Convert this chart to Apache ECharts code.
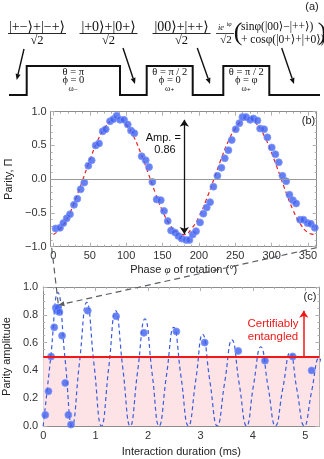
<!DOCTYPE html>
<html lang="en">
<head>
<meta charset="UTF-8">
<title>Parity oscillations</title>
<script src="https://cdn.jsdelivr.net/npm/echarts@6.0.0/dist/echarts.min.js"></script>
<style>
    html, body { margin: 0; padding: 0; background: #fff; }
    #main { width: 324px; height: 459px; }
</style>
</head>
<body>
<div id="main"></div>
<script>
// (b) parity vs phase of the analysis rotation
var bPhase = [3.1, 9.1, 13.7, 18.3, 22.8, 28.3, 32.9, 37.5, 42.5, 48, 52.6, 58.1, 62.7, 67.8, 71.9,
    77.9, 82.4, 87, 91.6, 97.1, 102.2, 106.7, 111.3, 121.4, 126.9, 131.5, 136.1, 142, 147.6, 152.1,
    157.2, 161.8, 167.3, 171.8, 176.4, 182.4, 187, 191.6, 196.1, 201.6, 206.2, 210.8, 215.4, 220, 225.5,
    231, 235.6, 240.6, 245.2, 250.7, 255.7, 259.9, 264.9, 270.4, 275, 280.5, 284.2, 289.7, 294.2, 300.2,
    305.2, 309.9, 314.9, 320, 324.5, 329.2, 333.7, 339.2, 343.8, 349.3, 353.9, 359.4];
var bParity = [-0.73, -0.72, -0.65, -0.58, -0.52, -0.38, -0.29, -0.15, -0.05, 0.20, 0.28, 0.50, 0.53, 0.71, 0.74,
    0.86, 0.89, 0.94, 0.88, 0.88, 0.81, 0.72, 0.68, 0.34, 0.28, 0.18, -0.04, -0.30, -0.31, -0.47,
    -0.62, -0.76, -0.79, -0.84, -0.88, -0.90, -0.90, -0.82, -0.77, -0.64, -0.51, -0.42, -0.34, -0.11, 0.05,
    0.17, 0.31, 0.43, 0.58, 0.74, 0.83, 0.92, 0.92, 0.88, 0.90, 0.87, 0.75, 0.74, 0.62, 0.47,
    0.37, 0.25, 0.05, -0.03, -0.23, -0.31, -0.36, -0.60, -0.60, -0.65, -0.66, -0.72];
// red dashed fit, every 10 degrees
var bFitPhase = [0, 10, 20, 30, 40, 50, 60, 70, 80, 90, 100, 110, 120, 130, 140, 150, 160, 170, 180,
    190, 200, 210, 220, 230, 240, 250, 260, 270, 280, 290, 300, 310, 320, 330, 340, 350, 360];
var bFitParity = [-0.82, -0.73, -0.56, -0.31, -0.02, 0.28, 0.55, 0.75, 0.87, 0.90, 0.81, 0.64, 0.39, 0.10, -0.20, -0.47, -0.67, -0.79, -0.82,
    -0.73, -0.56, -0.31, -0.02, 0.28, 0.55, 0.75, 0.87, 0.90, 0.81, 0.64, 0.39, 0.10, -0.20, -0.47, -0.67, -0.79, -0.82];

// (c) parity amplitude vs interaction duration
var cTime = [0.04, 0.10, 0.15, 0.21, 0.24, 0.26, 0.28, 0.31, 0.36, 0.42, 0.48, 0.53,
    0.85, 1.39, 1.92, 2.54, 3.08, 3.72, 4.23, 4.76, 5.12];
var cAmp = [0.08, 0.25, 0.50, 0.71, 0.85, 0.83, 0.85, 0.82, 0.65, 0.31, 0.08, 0.01,
    0.83, 0.79, 0.67, 0.68, 0.60, 0.54, 0.47, 0.50, 0.40];
// blue dashed fit: zeros, half heights and peaks
var cFitTime = [0, 0.14, 0.28, 0.42, 0.55, 0.69, 0.83, 0.97, 1.11, 1.25, 1.38, 1.52, 1.66, 1.80, 1.94, 2.08,
    2.21, 2.35, 2.49, 2.63, 2.77, 2.91, 3.04, 3.18, 3.32, 3.46, 3.60, 3.74, 3.88, 4.01, 4.15, 4.29,
    4.43, 4.57, 4.71, 4.84, 4.98, 5.12, 5.26, 5.40];
var cFitAmp = [0, 0.48, 0.96, 0.47, 0, 0.45, 0.89, 0.44, 0, 0.42, 0.83, 0.41, 0, 0.39, 0.77, 0.37,
    0, 0.36, 0.71, 0.35, 0, 0.33, 0.66, 0.32, 0, 0.31, 0.62, 0.30, 0, 0.29, 0.57, 0.28,
    0, 0.27, 0.53, 0.26, 0, 0.25, 0.49, 0.25];
var entangledLevel = 0.5;

// tick labels
var bXTicks = [0, 50, 100, 150, 200, 250, 300, 350];
var bYTicks = [-1, -0.5, 0, 0.5, 1];
var cXTicks = [0, 1, 2, 3, 4, 5];
var cYTicks = [0, 0.2, 0.4, 0.6, 0.8, 1];

// (a) pulse sequence text
var stateKets = ['|+−⟩+|−+⟩', '|+0⟩+|0+⟩', '|00⟩+|++⟩'];
var pulseLabels = [['θ = π', 'ϕ = 0', 'ω₋'], ['θ = π / 2', 'ϕ = 0', 'ω₊'], ['θ = π / 2', 'ϕ = φ', 'ω₊']];

function steps(from, to, step) {
    var out = [];
    for (var v = from; v <= to + step / 2; v += step) out.push(Math.round(v * 1000) / 1000);
    return out;
}

var sans = '"Liberation Sans", Arial, sans-serif';
var serif = '"Liberation Serif", "DejaVu Serif", serif';
var frameCol = '#8c8c8c', tickCol = '#b0b0b0';

function fmtY(v) {
    return (v < 0 ? '−' : '') + Math.abs(v).toFixed(1);
}

// one frame side: ticks inside, optional labels and line
function side(grid, min, max, pos, ticks, len, line, label, extra) {
    var ax = {
        type: 'value', gridIndex: grid, min: min, max: max, position: pos,
        splitLine: {show: false},
        axisLine: {show: line, onZero: false, lineStyle: {color: frameCol, width: 1}},
        axisTick: {show: true, inside: true, length: len, customValues: ticks, lineStyle: {color: tickCol, width: 1}},
        axisLabel: label ? label : {show: false}
    };
    for (var k in extra) ax[k] = extra[k];
    return ax;
}

var nameStyle = {fontSize: 11, color: '#222', fontFamily: sans};

var xAxes = [
    // grid 0: panel (b)
    side(0, -3.7, 362, 'bottom', bXTicks, 4, true,
        {customValues: bXTicks, margin: 4, fontSize: 11, color: '#333', fontFamily: sans},
        {name: '{n|Phase }{i|φ}{n| of rotation (°)}', nameLocation: 'middle', nameGap: 18,
            nameTextStyle: {rich: {n: nameStyle, i: {fontSize: 11, color: '#222', fontFamily: serif, fontStyle: 'italic'}}}}),
    side(0, -3.7, 362, 'top', bXTicks, 4, true),
    // grid 1: panel (c)
    side(1, 0, 5.27, 'bottom', cXTicks, 4, true,
        {customValues: cXTicks, margin: 4, fontSize: 11, color: '#333', fontFamily: sans},
        {name: 'Interaction duration (ms)', nameLocation: 'middle', nameGap: 20, nameTextStyle: nameStyle}),
    side(1, 0, 5.27, 'top', cXTicks, 4, true),
    // grids 2,3: minor ticks
    side(2, -3.7, 362, 'bottom', steps(0, 360, 10), 2, false),
    side(2, -3.7, 362, 'top', steps(0, 360, 10), 2, false),
    side(3, 0, 5.27, 'bottom', steps(0, 5.2, 0.2), 2, false),
    side(3, 0, 5.27, 'top', steps(0, 5.2, 0.2), 2, false)
];

var yAxes = [
    side(0, -1, 1, 'left', bYTicks, 4, true,
        {customValues: bYTicks, margin: 4, fontSize: 11, color: '#333', fontFamily: sans, formatter: fmtY},
        {name: 'Parity, Π', nameLocation: 'middle', nameGap: 31, nameTextStyle: nameStyle}),
    side(0, -1, 1, 'right', bYTicks, 4, true),
    side(1, 0, 1, 'left', cYTicks, 4, true,
        {customValues: cYTicks, margin: 5, fontSize: 11, color: '#333', fontFamily: sans, formatter: fmtY},
        {name: 'Parity amplitude', nameLocation: 'middle', nameGap: 24, nameTextStyle: nameStyle}),
    side(1, 0, 1, 'right', cYTicks, 4, true),
    side(2, -1, 1, 'left', steps(-1, 1, 0.1), 2, false),
    side(2, -1, 1, 'right', steps(-1, 1, 0.1), 2, false),
    side(3, 0, 1, 'left', steps(0, 1, 0.05), 2, false),
    side(3, 0, 1, 'right', steps(0, 1, 0.05), 2, false)
];

var gridB = {left: 50.7, top: 111.7, width: 266, height: 135, outerBoundsMode: 'none'};
var gridC = {left: 43.2, top: 287, width: 276.3, height: 139, outerBoundsMode: 'none'};

function pairs(xs, ys) {
    return xs.map(function (x, i) { return [x, ys[i]]; });
}

var dotStyle = {color: '#3f60ef', borderColor: '#7e96ff', borderWidth: 1};

var chart = echarts.init(document.getElementById('main'), null, {renderer: 'canvas'});
chart.setOption({
    animation: false,
    backgroundColor: '#fff',
    grid: [gridB, gridC, gridB, gridC],
    xAxis: xAxes,
    yAxis: yAxes,
    series: [
        {
            type: 'line', xAxisIndex: 0, yAxisIndex: 0, z: 2,
            data: pairs(bFitPhase, bFitParity), smooth: 0.5, showSymbol: false,
            lineStyle: {color: '#e82020', width: 1.2, type: [4, 3]},
            markLine: {
                silent: true, symbol: 'none', label: {show: false},
                lineStyle: {color: '#999', width: 1, type: 'solid'},
                data: [{yAxis: 0}]
            }
        },
        {
            type: 'scatter', xAxisIndex: 0, yAxisIndex: 0, z: 4,
            data: pairs(bPhase, bParity), symbolSize: 7, itemStyle: dotStyle,
            markLine: {
                silent: true, symbol: ['arrow', 'arrow'], symbolSize: 7, label: {show: false},
                lineStyle: {color: '#111', width: 1.3, type: 'solid'},
                data: [[{coord: [180, -0.81]}, {coord: [180, 0.88]}]]
            }
        },
        {
            type: 'line', xAxisIndex: 2, yAxisIndex: 2, z: 1, data: [],
            markArea: {
                silent: true, itemStyle: {color: '#fde3e6'},
                data: [[{yAxis: 0}, {yAxis: entangledLevel}]]
            },
            markLine: {
                silent: true, symbol: 'none', label: {show: false},
                lineStyle: {color: '#f01818', width: 2.2, type: 'solid'},
                data: [{yAxis: entangledLevel}]
            }
        },
        {
            type: 'line', xAxisIndex: 2, yAxisIndex: 2, z: 2,
            data: pairs(cFitTime, cFitAmp), smooth: 0.5, showSymbol: false,
            lineStyle: {color: '#3b5bdb', width: 1.2, type: [4, 3]}
        },
        {
            type: 'scatter', xAxisIndex: 2, yAxisIndex: 2, z: 4,
            data: pairs(cTime, cAmp), symbolSize: 7, itemStyle: dotStyle,
            markLine: {
                silent: true, symbol: ['none', 'arrow'], symbolSize: 7, label: {show: false},
                lineStyle: {color: '#f01818', width: 1.5, type: 'solid'},
                data: [[{coord: [4.97, entangledLevel]}, {coord: [4.97, 0.83]}]]
            }
        }
    ]
});

// ---- annotations drawn as graphics ----
function txt(s, x, y, font, color, align) {
    return {type: 'text', x: x, y: y, silent: true, z: 10,
        style: {text: s, font: font, fill: color || '#111', align: align || 'center', verticalAlign: 'middle'}};
}
function seg(x1, y1, x2, y2, color, w, dash) {
    return {type: 'line', silent: true, z: 10, shape: {x1: x1, y1: y1, x2: x2, y2: y2},
        style: {stroke: color, lineWidth: w, lineDash: dash || null}};
}
function arrow(x1, y1, x2, y2, color, w, head, dash) {
    var a = Math.atan2(y2 - y1, x2 - x1), L = head, W = head * 0.42;
    var bx = x2 - L * Math.cos(a), by = y2 - L * Math.sin(a);
    return [
        seg(x1, y1, bx, by, color, w, dash),
        {type: 'polygon', silent: true, z: 10, style: {fill: color},
            shape: {points: [[x2, y2], [bx - W * Math.sin(a), by + W * Math.cos(a)], [bx + W * Math.sin(a), by - W * Math.cos(a)]]}}
    ];
}

var g = [];
// pulse waveform
var lo = 95, hi = 66;
var edges = [[26.7, 120], [146.7, 192.7], [223.3, 269.3]];
var pts = [[9, lo]];
edges.forEach(function (e) { pts.push([e[0], lo], [e[0], hi], [e[1], hi], [e[1], lo]); });
pts.push([320, lo]);
g.push({type: 'polyline', silent: true, z: 10, shape: {points: pts}, style: {stroke: '#111', lineWidth: 2, fill: null}});
edges.forEach(function (e, i) {
    var cx = (e[0] + e[1]) / 2;
    g.push(txt(pulseLabels[i][0], cx, 72, '10.5px ' + serif));
    g.push(txt(pulseLabels[i][1], cx, 80.5, '10.5px ' + serif));
    g.push(txt(pulseLabels[i][2], cx, 88.5, '8px ' + serif));
});
// state fractions
[37, 108.5, 181.5].forEach(function (cx, i) {
    g.push(txt(stateKets[i], cx, 27, '14px ' + serif));
    g.push(seg(cx - 29, 33.5, cx + 29, 33.5, '#111', 0.9));
    g.push(txt('√2', cx, 41, '12.5px ' + serif));
});
g.push(txt('ie', 221, 28, 'italic 8.5px ' + serif));
g.push(txt('iφ', 229, 24.5, 'italic 6px ' + serif));
g.push(seg(216, 33.5, 234, 33.5, '#111', 0.8));
g.push(txt('√2', 226, 40.5, '11px ' + serif));
g.push(txt('(', 238, 33, '26px ' + serif));
g.push(txt('sinφ(|00⟩−|++⟩)', 241, 26.5, '11.5px ' + serif, '#111', 'left'));
g.push(txt('+ cosφ(|0+⟩+|+0⟩)', 241, 39.5, '11.5px ' + serif, '#111', 'left'));
g.push(txt(')', 322, 33, '26px ' + serif));
// arrows from states to the sequence
g = g.concat(arrow(24, 49, 16.7, 80, '#111', 1.4, 6));
g = g.concat(arrow(123, 48, 135, 84, '#111', 1.4, 6));
g = g.concat(arrow(197.3, 48, 210, 84, '#111', 1.4, 6));
g = g.concat(arrow(281.7, 48, 294, 84, '#111', 1.4, 6));
// panel tags
g.push(txt('(a)', 312, 7, '11px ' + sans, '#222'));
g.push(txt('(b)', 308.5, 120.5, '11px ' + sans, '#222'));
g.push(txt('(c)', 310, 297, '11px ' + sans, '#222'));
// amplitude note and entanglement note
g.push(txt('Amp. =', 163.3, 137.5, '11px ' + sans, '#111'));
g.push(txt('0.86', 165, 149.5, '11px ' + sans, '#111'));
g.push(txt('Certifiably', 273, 323.5, '11.5px ' + sans, '#f01818'));
g.push(txt('entangled', 273, 336.5, '11.5px ' + sans, '#f01818'));
// zoom connectors from (b) to the first maximum in (c)
var pL = chart.convertToPixel({xAxisIndex: 0, yAxisIndex: 0}, [-3.7, -1]);
var pR = chart.convertToPixel({xAxisIndex: 0, yAxisIndex: 0}, [362, -1]);
var tgt = chart.convertToPixel({xAxisIndex: 2, yAxisIndex: 2}, [0.29, 0.87]);
g.push(seg(pL[0] + 1, pL[1] + 1, tgt[0], tgt[1], '#5a5f63', 1.2, [6, 4]));
g = g.concat(arrow(pR[0], pR[1] + 1, tgt[0], tgt[1], '#5a5f63', 1.2, 6, [6, 4]));

chart.setOption({graphic: g});
</script>
</body>
</html>
